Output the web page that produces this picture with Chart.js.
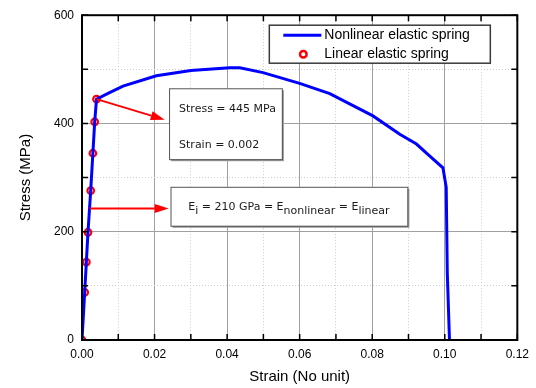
<!DOCTYPE html>
<html>
<head>
<meta charset="utf-8">
<script src="https://cdn.jsdelivr.net/npm/chart.js"></script>
<style>
  html, body { margin: 0; padding: 0; background: #fff; }
  #wrap { width: 536px; height: 388px; }
</style>
</head>
<body>
<div id="wrap"><canvas id="chart" width="536" height="388"></canvas></div>
<script>
// Nonlinear elastic spring (blue curve)
const nonlinearStrain = [0, 0.00074, 0.0012, 0.00165, 0.0024, 0.003, 0.0035, 0.004, 0.0076, 0.0113, 0.0205, 0.03, 0.0407, 0.0435, 0.0499, 0.06, 0.0683, 0.0802, 0.0876, 0.0922, 0.0958, 0.0995, 0.1004, 0.1007, 0.1013];
const nonlinearStress = [0, 88, 144, 199, 276, 345, 403, 445, 457, 469, 488, 498, 503, 503, 494, 474, 455, 414, 380, 362, 340, 318, 282, 123, 0];

// Linear elastic spring (red circles)
const linearStrain = [0, 0.00074, 0.0012, 0.00165, 0.0024, 0.003, 0.0035, 0.004];
const linearStress = [0, 88, 144, 199, 276, 345, 403, 445];

const xMin = 0, xMax = 0.12, xStep = 0.01;
const yMin = 0, yMax = 600, yStep = 100;

const seriesLabels = ["Nonlinear elastic spring", "Linear elastic spring"];
const noteLines = ["Stress = 445 MPa", "Strain = 0.002"];

const FONT = "'Liberation Sans', Arial, sans-serif";
const NOTE_FONT = "'DejaVu Sans', Verdana, sans-serif";

const isMajorX = (v) => Math.round(v * 100) % 2 === 0;
const isMajorY = (v) => Math.round(v) % 200 === 0;

function arrow(ctx, x1, y1, x2, y2) {
  const ang = Math.atan2(y2 - y1, x2 - x1);
  const hl = 14, hw = 4.5;
  const bx = x2 - hl * Math.cos(ang), by = y2 - hl * Math.sin(ang);
  ctx.strokeStyle = "#ff0000";
  ctx.fillStyle = "#ff0000";
  ctx.lineWidth = 2;
  ctx.beginPath(); ctx.moveTo(x1, y1); ctx.lineTo(bx, by); ctx.stroke();
  ctx.beginPath();
  ctx.moveTo(x2, y2);
  ctx.lineTo(bx + hw * Math.sin(ang), by - hw * Math.cos(ang));
  ctx.lineTo(bx - hw * Math.sin(ang), by + hw * Math.cos(ang));
  ctx.closePath(); ctx.fill();
}

function noteBox(ctx, l, t, r, b) {
  ctx.fillStyle = "#9a9a9a";
  ctx.fillRect(l + 2, t + 2, r - l, b - t);
  ctx.fillStyle = "#fff";
  ctx.fillRect(l, t, r - l, b - t);
  ctx.strokeStyle = "#555";
  ctx.lineWidth = 1;
  ctx.strokeRect(l + 0.5, t + 0.5, r - l, b - t);
}

const decor = {
  id: "decor",
  afterDatasetsDraw(chart) {
    const { ctx, chartArea: a, scales: { x, y } } = chart;
    ctx.save();

    // arrows
    arrow(ctx, x.getPixelForValue(0.004), y.getPixelForValue(445), x.getPixelForValue(0.0228), y.getPixelForValue(407));
    arrow(ctx, x.getPixelForValue(0.0021), y.getPixelForValue(243), x.getPixelForValue(0.0239), y.getPixelForValue(243));

    // note box 1
    let l = x.getPixelForValue(0.0240), r = x.getPixelForValue(0.0551);
    let t = y.getPixelForValue(465), b = y.getPixelForValue(334);
    noteBox(ctx, l, t, r, b);
    ctx.fillStyle = "#1a1a1a";
    ctx.font = "11px " + NOTE_FONT;
    ctx.textBaseline = "middle";
    ctx.textAlign = "left";
    ctx.fillText(noteLines[0], l + 10, t + 21);
    ctx.fillText(noteLines[1], l + 10, t + 57);

    // note box 2 with subscripts
    l = x.getPixelForValue(0.0244); r = x.getPixelForValue(0.0897);
    t = y.getPixelForValue(283); b = y.getPixelForValue(211);
    noteBox(ctx, l, t, r, b);
    const parts = [["E", 0], ["i", 1], [" = 210 GPa = E", 0], ["nonlinear", 1], [" = E", 0], ["linear", 1]];
    ctx.font = "11px " + NOTE_FONT;
    ctx.textBaseline = "alphabetic";
    let w = 0;
    parts.forEach(p => { w += ctx.measureText(p[0]).width; });
    let cx = (l + r) / 2 - w / 2;
    const base = (t + b) / 2 + 4;
    ctx.fillStyle = "#1a1a1a";
    parts.forEach(p => {
      ctx.fillText(p[0], cx, base + (p[1] ? 4 : 0));
      cx += ctx.measureText(p[0]).width;
    });

    // legend
    const ll = a.right - 248, lt = a.top + 10, lr = a.right - 27, lb = a.top + 48;
    ctx.fillStyle = "#fff";
    ctx.fillRect(ll, lt, lr - ll, lb - lt);
    ctx.strokeStyle = "#3a3a3a";
    ctx.lineWidth = 1.5;
    ctx.strokeRect(ll, lt, lr - ll, lb - lt);
    ctx.strokeStyle = "#0000ff";
    ctx.lineWidth = 3;
    ctx.beginPath(); ctx.moveTo(ll + 14, lt + 10); ctx.lineTo(ll + 52, lt + 10); ctx.stroke();
    ctx.strokeStyle = "#ff0000";
    ctx.lineWidth = 2.5;
    ctx.beginPath(); ctx.arc(ll + 34, lt + 29, 3.3, 0, Math.PI * 2); ctx.stroke();
    ctx.fillStyle = "#000";
    ctx.font = "14px " + FONT;
    ctx.textBaseline = "middle";
    ctx.fillText(seriesLabels[0], ll + 55, lt + 10);
    ctx.fillText(seriesLabels[1], ll + 55, lt + 29);

    // frame and inward ticks
    ctx.strokeStyle = "#000";
    ctx.lineWidth = 2;
    ctx.strokeRect(a.left, a.top, a.right - a.left, a.bottom - a.top);
    ctx.lineWidth = 1.5;
    ctx.beginPath();
    x.ticks.forEach(tk => {
      const px = x.getPixelForValue(tk.value);
      ctx.moveTo(px, a.bottom); ctx.lineTo(px, a.bottom - 6);
      ctx.moveTo(px, a.top); ctx.lineTo(px, a.top + 6);
    });
    y.ticks.forEach(tk => {
      const py = y.getPixelForValue(tk.value);
      ctx.moveTo(a.left, py); ctx.lineTo(a.left + 6, py);
      ctx.moveTo(a.right, py); ctx.lineTo(a.right - 6, py);
    });
    ctx.stroke();
    ctx.restore();
  }
};

new Chart(document.getElementById("chart"), {
  type: "scatter",
  data: {
    datasets: [
      {
        label: seriesLabels[0],
        data: nonlinearStrain.map((v, i) => ({ x: v, y: nonlinearStress[i] })),
        showLine: true,
        borderColor: "#0000ff",
        borderWidth: 3,
        pointRadius: 0,
        tension: 0
      },
      {
        label: seriesLabels[1],
        data: linearStrain.map((v, i) => ({ x: v, y: linearStress[i] })),
        showLine: false,
        pointStyle: "circle",
        pointRadius: 3.3,
        borderColor: "#ff0000",
        backgroundColor: "rgba(0,0,0,0)",
        borderWidth: 2.2
      }
    ]
  },
  options: {
    responsive: false,
    animation: false,
    layout: { padding: { top: 14, right: 18, left: 0, bottom: 0 } },
    plugins: { legend: { display: false }, tooltip: { enabled: false } },
    scales: {
      x: {
        type: "linear",
        min: xMin, max: xMax,
        afterFit: (s) => { s.height = 48; },
        border: { display: false, dash: (c) => (c.tick && isMajorX(c.tick.value) ? [] : [1, 2]) },
        grid: {
          drawTicks: false,
          color: (c) => (c.tick && isMajorX(c.tick.value) ? "#a0a0a0" : "#cccccc"),
          lineWidth: 1
        },
        ticks: {
          stepSize: xStep,
          autoSkip: false,
          maxRotation: 0,
          padding: 7,
          color: "#000",
          font: { family: FONT, size: 12 },
          callback: (v) => (isMajorX(v) ? v.toFixed(2) : "")
        },
        title: {
          display: true,
          text: "Strain (No unit)",
          color: "#000",
          font: { family: FONT, size: 15 },
          padding: { top: 0, bottom: 2 }
        }
      },
      y: {
        type: "linear",
        min: yMin, max: yMax,
        afterFit: (s) => { s.width = 82; },
        border: { display: false, dash: (c) => (c.tick && isMajorY(c.tick.value) ? [] : [1, 2]) },
        grid: {
          drawTicks: false,
          color: (c) => (c.tick && isMajorY(c.tick.value) ? "#a0a0a0" : "#cccccc"),
          lineWidth: 1
        },
        ticks: {
          stepSize: yStep,
          autoSkip: false,
          padding: 8,
          color: "#000",
          font: { family: FONT, size: 12 },
          callback: (v) => (isMajorY(v) ? String(v) : "")
        },
        title: {
          display: true,
          text: "Stress (MPa)",
          color: "#000",
          font: { family: FONT, size: 15 },
          padding: { top: 17, bottom: 0 }
        }
      }
    }
  },
  plugins: [decor]
});
</script>
</body>
</html>
